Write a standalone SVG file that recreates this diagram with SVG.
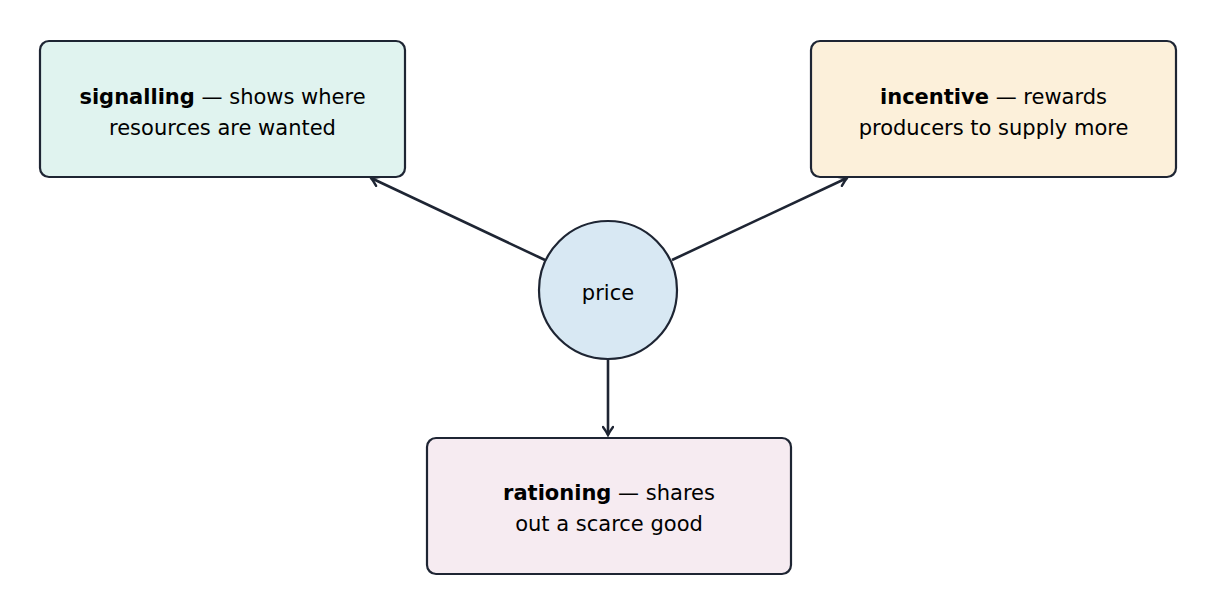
<svg xmlns="http://www.w3.org/2000/svg" width="1218" height="615" viewBox="0 0 1218 615">
<style>
.box{stroke:#1e2533;stroke-width:2.2}
.t{font-family:"DejaVu Sans","Liberation Sans",sans-serif;font-size:21px;fill:#000;text-anchor:middle}
.c{stroke:#1e2533;stroke-width:2.6;fill:none;marker-end:url(#a)}
</style>
<defs>
<marker id="a" viewBox="0 0 12 12" refX="10" refY="6" markerWidth="12" markerHeight="12" markerUnits="userSpaceOnUse" orient="auto">
<path d="M2,1 Q6,4 10,6 Q6,8 2,11" fill="none" stroke="#1e2533" stroke-width="2.4" stroke-linecap="round"/>
</marker>
</defs>
<rect width="1218" height="615" fill="#fff"/>
<g id="connectors">
<line class="c" x1="545" y1="260" x2="371" y2="178"/>
<line class="c" x1="672" y1="260" x2="847" y2="178"/>
<line class="c" x1="608" y1="359" x2="608" y2="435"/>
</g>
<g id="signalling">
<rect class="box" x="40" y="41" width="365" height="136" rx="9" fill="#e0f3ef"/>
<text class="t" x="222.5" y="104"><tspan font-weight="bold">signalling</tspan> — shows where</text>
<text class="t" x="222.5" y="135">resources are wanted</text>
</g>
<g id="incentive">
<rect class="box" x="811" y="41" width="365" height="136" rx="9" fill="#fcf0da"/>
<text class="t" x="993.5" y="104"><tspan font-weight="bold">incentive</tspan> — rewards</text>
<text class="t" x="993.5" y="135">producers to supply more</text>
</g>
<g id="rationing">
<rect class="box" x="427" y="438" width="364" height="136" rx="9" fill="#f6ebf1"/>
<text class="t" x="609" y="500"><tspan font-weight="bold">rationing</tspan> — shares</text>
<text class="t" x="609" y="531">out a scarce good</text>
</g>
<g id="price">
<circle class="box" cx="608" cy="290" r="69" fill="#d8e8f3"/>
<text class="t" x="608" y="300" font-size="29">price</text>
</g>
</svg>
